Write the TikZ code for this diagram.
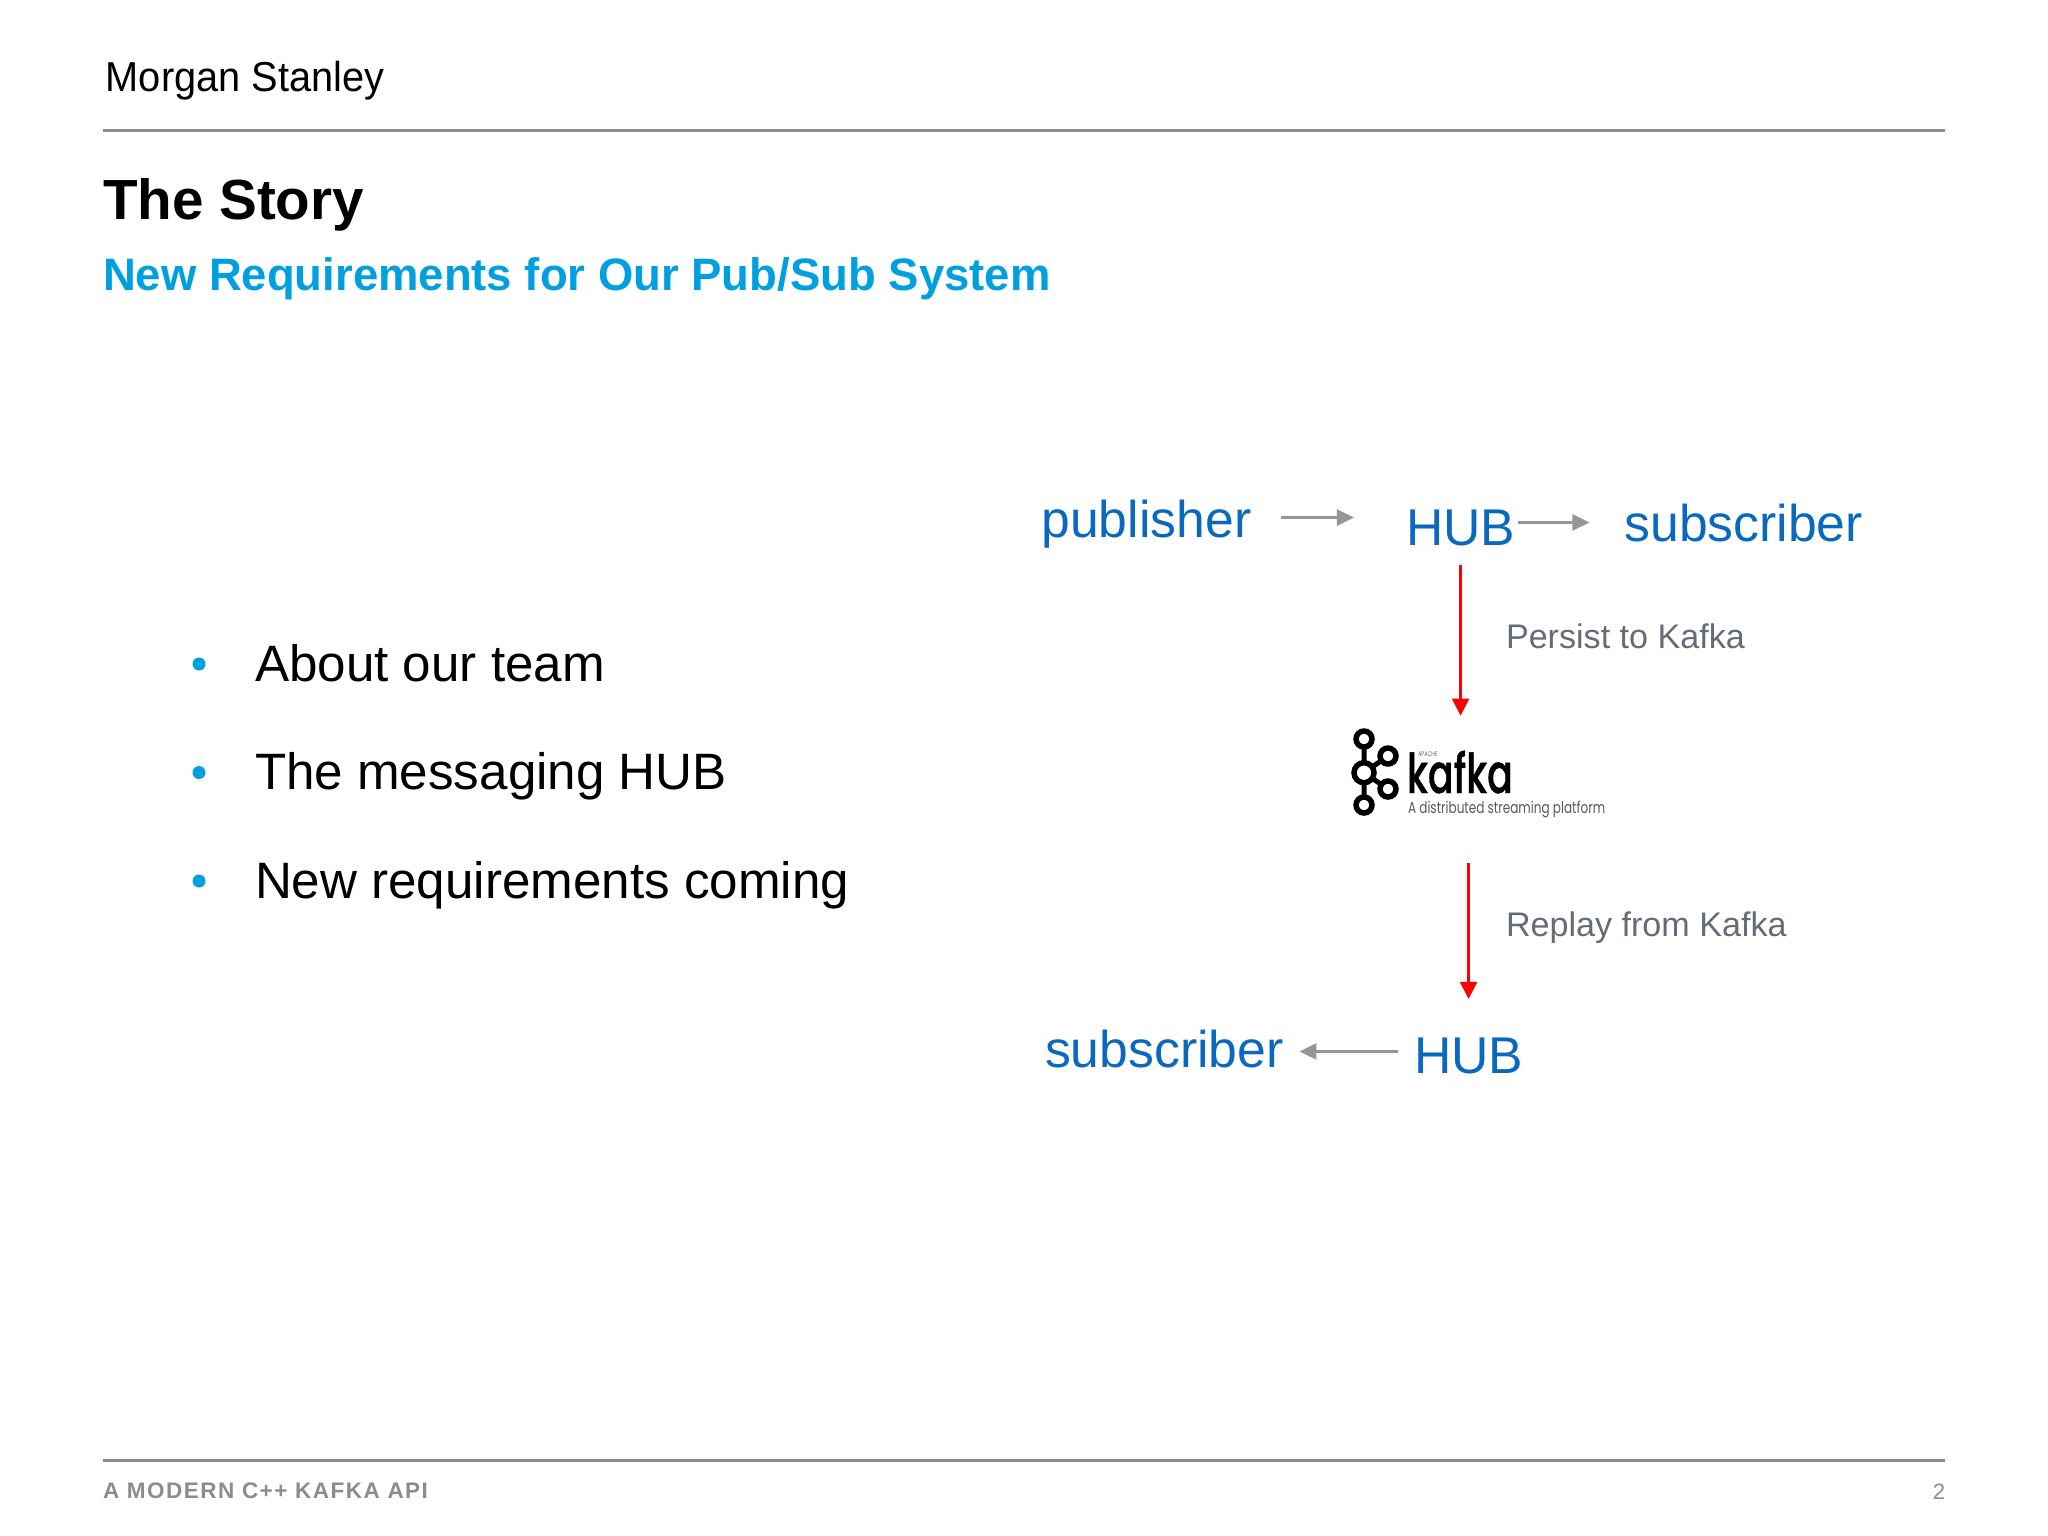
\documentclass[tikz,border=0pt]{standalone}
\usepackage{fontspec}
\usepackage{xcolor}
\usetikzlibrary{arrows.meta, positioning, calc}
\setmainfont{Liberation Sans}
\newfontfamily\msfont[FakeStretch=0.95]{Liberation Sans}
\newfontfamily\spacedfont[LetterSpace=6.5,BoldFont={Liberation Sans Bold}]{Liberation Sans}
\newfontfamily\kafkafont[FakeStretch=0.69,FakeBold=0.6]{Poppins Medium}
\newfontfamily\tagfont[FakeStretch=0.745]{Poppins}
\definecolor{hubblue}{HTML}{0A69BF}
\definecolor{msbright}{HTML}{009FDF}
\definecolor{notegray}{HTML}{666B78}
\definecolor{rulegray}{HTML}{8C8C8C}
\definecolor{arrowgray}{HTML}{969696}
\tikzset{
  plain/.style={anchor=base west, inner sep=0pt, outer sep=0pt},
  bodytext/.style={plain, font=\fontsize{14.55}{17}\selectfont},
  bluetext/.style={plain, text=hubblue, font=\fontsize{14.7}{17}\selectfont},
  notetext/.style={plain, text=notegray, font=\fontsize{9.7}{12}\selectfont},
  grayarrow/.style={draw=arrowgray, line width=0.025cm, -{Triangle[length=0.17cm,width=0.16cm]}},
  redarrow/.style={draw=red, line width=0.023cm, -{Triangle[length=0.17cm,width=0.17cm]}},
  rule/.style={draw=rulegray, line width=0.03cm},
  ring/.style={draw=black, line width=0.055cm, fill=white}
}

\begin{document}
\begin{tikzpicture}[x=0.01cm,y=-0.01cm]
\useasboundingbox (0,0) rectangle (2048,1536);
% Header
\node[plain, font=\fontsize{11.9}{14}\selectfont\msfont] (brand) at (105.8,91.5) {Morgan Stanley};
\draw[rule] (103,130.6) -- (1945,130.6);
\node[plain, font=\fontsize{16.1}{19}\selectfont\bfseries] (title) at (103,219) {The Story};
\node[plain, text=msbright, font=\fontsize{12.93}{16}\selectfont\bfseries] (subtitle) at (103,290.5) {New Requirements for Our Pub/Sub System};
% Bullets
\foreach \i/\ypos/\txt in {1/681/About our team, 2/789.5/The messaging HUB, 3/898/New requirements coming} {
  \node[bodytext] (item\i) at (255,\ypos) {\txt};
  \fill[msbright] (199,\ypos-17) circle (6.5);
}
% Top row
\node[bluetext] (publisher) at (1041.5,537.4) {publisher};
\node[bluetext] (hubtop) at (1406,545) {HUB};
\node[bluetext] (subtop) at (1624.5,541) {subscriber};
\draw[grayarrow, shorten <=0.30cm, shorten >=0.52cm] ([yshift=0.065cm]publisher.east) -- ([yshift=0.065cm]publisher.east -| hubtop.west);
\draw[grayarrow, shorten <=0.03cm, shorten >=0.35cm] ([yshift=0.05cm]hubtop.east) -- ([yshift=0.05cm]hubtop.east -| subtop.west);
% Kafka logo
\node[minimum width=2.0cm, minimum height=0.85cm, inner sep=0pt] (kafkabox) at (1480,777.5) {};
\draw[line width=0.05cm] (1364,739) -- (1364,805) (1388,756) -- (1364,772.7) -- (1388,789);
\foreach \cx/\cy/\rad in {1364/739/8, 1388/756/8, 1364/772.7/10, 1388/789/8, 1364/805/8}
  \draw[ring] (\cx,\cy) circle (\rad);
\node[plain, text height=0.28cm, font=\fontsize{15.6}{18}\selectfont\kafkafont] (kafkaword) at (1407,793) {kafka};
\node[plain, text=black!60, font=\fontsize{1.9}{2}\selectfont\tagfont] (kafkaapache) at (1418,756) {APACHE};
\node[plain, text=black!65, font=\fontsize{4.6}{6}\selectfont\tagfont] (kafkatag) at (1408,813) {A distributed streaming platform};
% Persist and replay
\draw[redarrow, shorten <=0.19cm, shorten >=0.186cm] (hubtop.south) -- (hubtop.south |- kafkabox.north);
\node[notetext] (persist) at (1506,648) {Persist to Kafka};
\node[bluetext] (subbottom) at (1045,1067.5) {subscriber};
\node[bluetext] (hubbottom) at (1414,1073.5) {HUB};
\draw[redarrow, shorten <=0.42cm, shorten >=0.39cm] (hubbottom.north |- kafkabox.south) -- (hubbottom.north);
\node[notetext] (replay) at (1506,936) {Replay from Kafka};
\draw[grayarrow, shorten <=0.16cm, shorten >=0.16cm] ([yshift=0.045cm]hubbottom.west) -- ([yshift=0.045cm]hubbottom.west -| subbottom.east);
% Footer
\draw[rule] (103,1460) -- (1945,1460);
\node[plain, text=rulegray, font=\fontsize{6.4}{8}\selectfont\spacedfont\bfseries] (footer) at (103,1498) {A MODERN C++ KAFKA API};
\node[anchor=base east, inner sep=0pt, text=rulegray, font=\fontsize{6.3}{8}\selectfont] (pagenum) at (1946,1499) {2};
\end{tikzpicture}
\end{document}
